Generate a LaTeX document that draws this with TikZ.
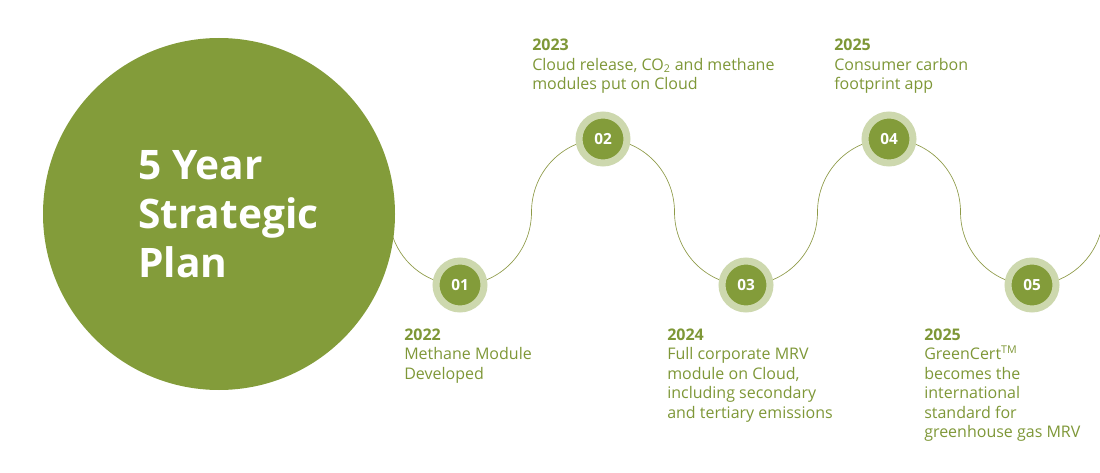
\documentclass[tikz,border=0pt]{standalone}
\usepackage{fontspec}
\setmainfont{Open Sans}
\usetikzlibrary{backgrounds}
\definecolor{leaf}{HTML}{839C3A}
\definecolor{leaflight}{HTML}{CDD8AE}
\definecolor{leaftext}{HTML}{7E9737}
\definecolor{vine}{HTML}{8E9A48}
\begin{document}
\begin{tikzpicture}[x=0.75pt,y=0.75pt,
  plan/.style={circle,fill=leaf,minimum size=264pt,inner sep=0pt},
  heading/.style={align=left,inner sep=0pt,text=white,font=\bfseries\fontsize{30.5}{36.5}\selectfont},
  milestone/.style={circle,fill=leaf,draw=leaflight,line width=5.25pt,minimum size=36pt,
    inner sep=0pt,text=white,font=\bfseries\fontsize{11.5}{13}\selectfont},
  note/.style={align=left,inner sep=0pt,anchor=base west,text=leaftext,font=\fontsize{12}{14.6}\selectfont},
  wave/.style={draw=vine,line width=0.5pt},
  hump/.style={x radius=53.625pt,y radius=54.75pt}]
  \useasboundingbox (0,0) rectangle (1100,472);
  \node[plan] (plan) at (219,258) {};
  \node[heading,anchor=base west] (title) at (138,195) {5 Year\\Strategic\\Plan};
  \node[milestone] (m1) at (460,187) {01};
  \node[milestone] (m2) at (603,333) {02};
  \node[milestone] (m3) at (746,187) {03};
  \node[milestone] (m4) at (889,333) {04};
  \node[milestone] (m5) at (1032,187) {05};
  \begin{scope}[on background layer]
    \draw[wave] (m1.center) arc[start angle=270,end angle=200,hump];
    \draw[wave] (m1.center) arc[start angle=270,end angle=360,hump] arc[start angle=180,end angle=90,hump];
    \draw[wave] (m2.center) arc[start angle=90,end angle=0,hump] arc[start angle=180,end angle=270,hump];
    \draw[wave] (m3.center) arc[start angle=270,end angle=360,hump] arc[start angle=180,end angle=90,hump];
    \draw[wave] (m4.center) arc[start angle=90,end angle=0,hump] arc[start angle=180,end angle=270,hump];
    \draw[wave] (m5.center) arc[start angle=270,end angle=342,hump];
  \end{scope}
  \node[note] (n1) at (404,93) {\textbf{2022}\\Methane Module\\Developed};
  \node[note] (n2) at (532,382.5) {\textbf{2023}\\Cloud release, CO\textsubscript{2} and methane\\modules put on Cloud};
  \node[note] (n3) at (667,54) {\textbf{2024}\\Full corporate MRV\\module on Cloud,\\including secondary\\and tertiary emissions};
  \node[note] (n4) at (834,382.5) {\textbf{2025}\\Consumer carbon\\footprint app};
  \node[note] (n5) at (924,34.5) {\textbf{2025}\\GreenCert\textsuperscript{TM}\\becomes the\\international\\standard for\\greenhouse gas MRV};
\end{tikzpicture}
\end{document}
